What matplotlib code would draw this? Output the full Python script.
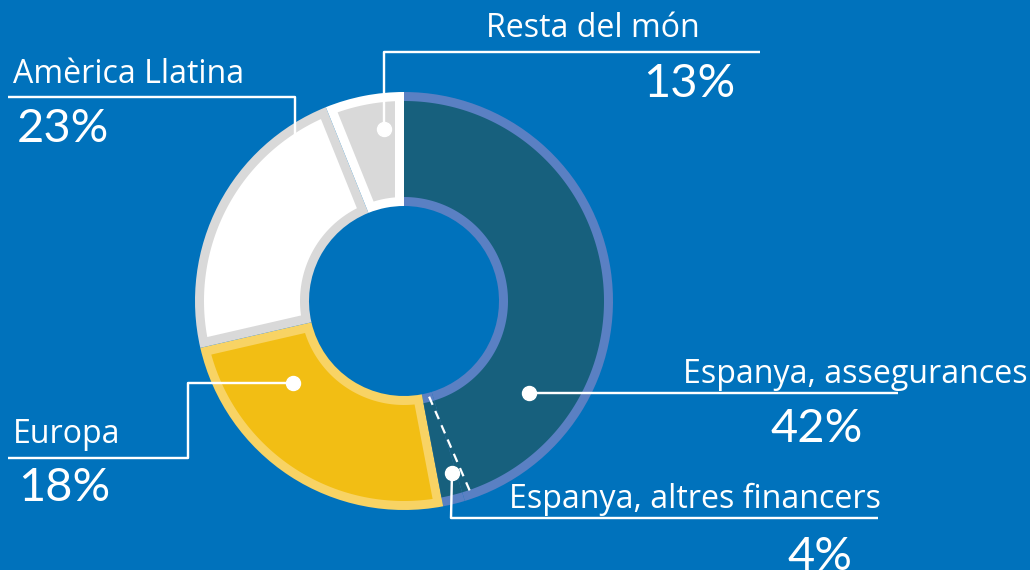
import numpy as np
import matplotlib
matplotlib.use("Agg")
import matplotlib.pyplot as plt
from matplotlib.patches import Polygon

# ---- data ----
segments = ["Espanya, assegurances", "Espanya, altres financers", "Europa",
            "Amèrica Llatina", "Resta del món"]
label_pct = ["42%", "4%", "18%", "23%", "13%"]
# wedge sizes as drawn in the picture (share of the full ring, %)
wedge_share = [45.3, 1.7, 24.4, 22.5, 6.1]

fill_colors = ["#17607D", "#17607D", "#F2BE14", "#FFFFFF", "#D9D9D9"]
edge_colors = ["#5A80C3", "#5A80C3", "#F8D364", "#D9D9D9", "#FFFFFF"]
BG = "#0072BC"

W, H = 1030, 570
fig = plt.figure(figsize=(W / 100, H / 100), dpi=100)
fig.patch.set_facecolor(BG)
ax = fig.add_axes([0, 0, 1, 1])


def Y(y):
    return H - y


cx, cy = 404, Y(301)
R_out, R_in = 209, 95
band = 9  # outline band thickness in px
px2pt = 72 / 100

dark_idx = [0, 1]

# layer 1: full wedges in their band colour
wedges, _ = ax.pie(wedge_share, startangle=90, counterclock=False,
                   center=(cx, cy), radius=R_out,
                   colors=edge_colors,
                   wedgeprops=dict(width=R_out - R_in, linewidth=0),
                   frame=True)
ax.set_xlim(0, W)
ax.set_ylim(0, H)
ax.set_aspect("equal")
ax.axis("off")


def inset_polygon(t1, t2, ro, ri, d, radial=True):
    """Ring sector [t1,t2] (deg) inset by d px on arcs (and on radial edges)."""
    ro2, ri2 = ro - d, ri + d
    if radial:
        a_o = np.rad2deg(np.arcsin(d / ro2))
        a_i = np.rad2deg(np.arcsin(d / ri2))
    else:
        a_o = a_i = 0.0
    to = np.linspace(t1 + a_o, t2 - a_o, 200)
    ti = np.linspace(t2 - a_i, t1 + a_i, 200)
    xs = np.concatenate([cx + ro2 * np.cos(np.deg2rad(to)),
                         cx + ri2 * np.cos(np.deg2rad(ti))])
    ys = np.concatenate([cy + ro2 * np.sin(np.deg2rad(to)),
                         cy + ri2 * np.sin(np.deg2rad(ti))])
    return np.column_stack([xs, ys])


for i, w in enumerate(wedges):
    pts = inset_polygon(w.theta1, w.theta2, R_out, R_in, band,
                        radial=(i not in dark_idx))
    ax.add_patch(Polygon(pts, closed=True, facecolor=fill_colors[i],
                         edgecolor="none", zorder=w.get_zorder() + 0.1))

# dashed divider between the two Spanish segments
b_ang = np.deg2rad(wedges[0].theta1)
r1, r2 = 100, 198
ax.plot([cx + r1 * np.cos(b_ang) - 4, cx + r2 * np.cos(b_ang) + 8],
        [cy + r1 * np.sin(b_ang), cy + r2 * np.sin(b_ang)],
        color="white", lw=1.6, ls=(0, (4, 3)), zorder=5)

# ---- leader lines & labels ----
LW = 2.4 * px2pt
line_kw = dict(color="white", lw=LW, solid_capstyle="butt", zorder=6)
dot_kw = dict(marker="o", ms=14 * px2pt, color="white", zorder=7, lw=0)

lab_font = dict(family="Open Sans", size=23.1, color="white")
pct_font = dict(family="Lato", size=33.8, color="white")

# Resta del món
ax.plot([384, 384, 760], [Y(129), Y(52), Y(52)], **line_kw)
ax.plot([384], [Y(129)], **dot_kw)
ax.text(486, Y(37), segments[4], ha="left", va="baseline", **lab_font)
ax.text(735, Y(97), label_pct[4], ha="right", va="baseline", **pct_font)

# Amèrica Llatina
ax.plot([8, 295, 295], [Y(97), Y(97), Y(150)], **line_kw)
ax.text(13, Y(83), segments[3], ha="left", va="baseline", **lab_font)
ax.text(17, Y(142), label_pct[3], ha="left", va="baseline", **pct_font)

# Europa
ax.plot([8, 188, 188, 293], [Y(458), Y(458), Y(383), Y(383)], **line_kw)
ax.plot([293], [Y(383)], **dot_kw)
ax.text(13, Y(443), segments[2], ha="left", va="baseline", **lab_font)
ax.text(18, Y(501), label_pct[2], ha="left", va="baseline", **pct_font)

# Espanya, assegurances
ax.plot([529, 898], [Y(393), Y(393)], **line_kw)
ax.plot([529], [Y(393)], **dot_kw)
ax.text(1028, Y(383), segments[0], ha="right", va="baseline", **lab_font)
ax.text(863, Y(442), label_pct[0], ha="right", va="baseline", **pct_font)

# Espanya, altres financers
ax.plot([452, 451, 878], [Y(473), Y(518), Y(518)], **line_kw)
ax.plot([452], [Y(473)], **dot_kw)
ax.text(881, Y(508), segments[1], ha="right", va="baseline", **lab_font)
ax.text(852, Y(570), label_pct[1], ha="right", va="baseline", **pct_font)

fig.savefig("out.png", dpi=100, facecolor=BG)
